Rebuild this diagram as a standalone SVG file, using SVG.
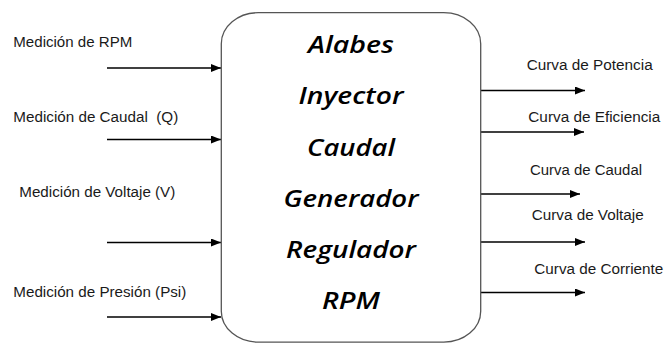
<svg xmlns="http://www.w3.org/2000/svg" width="664" height="344" viewBox="0 0 664 344">
<style>
.lbl{font-family:"Liberation Sans",Arial,sans-serif;font-size:14px;fill:#1a1a1a;white-space:pre}
.big{font-family:"Open Sans","Liberation Sans",sans-serif;font-size:23px;font-weight:600;font-style:italic;fill:#000;text-anchor:middle}
.ln{stroke:#000;stroke-width:1.3;fill:none}
.box{fill:#fff;stroke:#555;stroke-width:1.3}
</style>
<defs>
<marker id="ah" viewBox="0 0 10 8" refX="10" refY="4" markerWidth="10" markerHeight="8" markerUnits="userSpaceOnUse" orient="auto">
<path d="M0,0 L10,4 L0,8 Z" fill="#000"/>
</marker>
</defs>
<rect width="664" height="344" fill="#fff"/>
<g id="connectors">
<line class="ln" x1="107" y1="68" x2="221" y2="68" marker-end="url(#ah)"/>
<line class="ln" x1="107" y1="139.5" x2="221" y2="139.5" marker-end="url(#ah)"/>
<line class="ln" x1="107" y1="242.5" x2="221" y2="242.5" marker-end="url(#ah)"/>
<line class="ln" x1="107" y1="317" x2="221" y2="317" marker-end="url(#ah)"/>
<line class="ln" x1="480" y1="90.5" x2="585" y2="90.5" marker-end="url(#ah)"/>
<line class="ln" x1="480" y1="132" x2="584" y2="132" marker-end="url(#ah)"/>
<line class="ln" x1="480" y1="194" x2="580" y2="194" marker-end="url(#ah)"/>
<line class="ln" x1="480" y1="242" x2="585" y2="242" marker-end="url(#ah)"/>
<line class="ln" x1="480" y1="292.5" x2="585" y2="292.5" marker-end="url(#ah)"/>
</g>
<g id="inputs">
<text class="lbl" x="13.3" y="47" textLength="119" lengthAdjust="spacingAndGlyphs">Medición de RPM</text>
<text class="lbl" x="13.3" y="122" textLength="165" lengthAdjust="spacingAndGlyphs" xml:space="preserve">Medición de Caudal  (Q)</text>
<text class="lbl" x="19.3" y="197" textLength="156" lengthAdjust="spacingAndGlyphs">Medición de Voltaje (V)</text>
<text class="lbl" x="13.3" y="297" textLength="173" lengthAdjust="spacingAndGlyphs">Medición de Presión (Psi)</text>
</g>
<g id="system">
<rect class="box" x="221.3" y="12.7" width="259.4" height="329.5" rx="37" ry="31"/>
<text class="big" x="351" y="53" textLength="86" lengthAdjust="spacingAndGlyphs">Alabes</text>
<text class="big" x="351" y="104" textLength="105" lengthAdjust="spacingAndGlyphs">Inyector</text>
<text class="big" x="351" y="156" textLength="88" lengthAdjust="spacingAndGlyphs">Caudal</text>
<text class="big" x="351" y="207" textLength="135" lengthAdjust="spacingAndGlyphs">Generador</text>
<text class="big" x="351" y="258" textLength="130" lengthAdjust="spacingAndGlyphs">Regulador</text>
<text class="big" x="351" y="309" textLength="58" lengthAdjust="spacingAndGlyphs">RPM</text>
</g>
<g id="outputs">
<text class="lbl" x="526.7" y="70" textLength="126" lengthAdjust="spacingAndGlyphs">Curva de Potencia</text>
<text class="lbl" x="528.3" y="122" textLength="132" lengthAdjust="spacingAndGlyphs">Curva de Eficiencia</text>
<text class="lbl" x="530" y="175" textLength="112" lengthAdjust="spacingAndGlyphs">Curva de Caudal</text>
<text class="lbl" x="531.7" y="220" textLength="112" lengthAdjust="spacingAndGlyphs">Curva de Voltaje</text>
<text class="lbl" x="534.3" y="274" textLength="129" lengthAdjust="spacingAndGlyphs">Curva de Corriente</text>
</g>
</svg>
